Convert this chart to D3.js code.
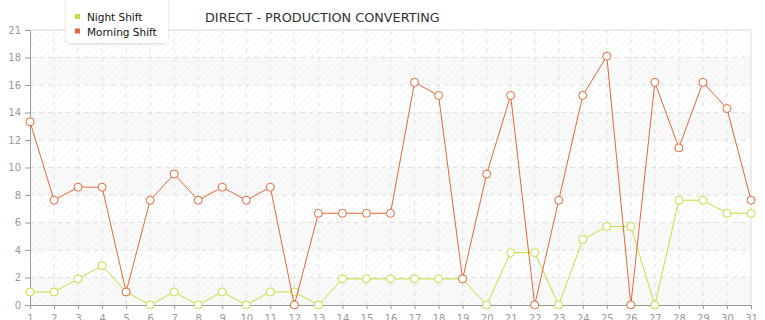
<!DOCTYPE html>
<head>
	<meta charset="utf-8" />
	<style>
		body {
			margin: 0;
			background-color: #fff;
			font-family: 'DejaVu Sans', sans-serif;
		}
		.tick text {
			fill: #999;
			font-size: 10px;
		}
	</style>
</head>
<body>
	<div id="chart-area"></div>
	<script src="https://cdnjs.cloudflare.com/ajax/libs/d3/7.8.5/d3.min.js"></script>
	<script>
		const days = d3.range(1, 32);
		const nightShift = [0.95, 0.95, 1.9, 2.86, 0.95, 0, 0.95, 0, 0.95, 0, 0.95, 0.95, 0, 1.9, 1.9, 1.9,
			1.9, 1.9, 1.9, 0, 3.81, 3.81, 0, 4.76, 5.71, 5.71, 0, 7.62, 7.62, 6.67, 6.67];
		const morningShift = [13.33, 7.62, 8.57, 8.57, 0.95, 7.62, 9.52, 7.62, 8.57, 7.62, 8.57, 0, 6.67, 6.67,
			6.67, 6.67, 16.19, 15.24, 1.9, 9.52, 15.24, 0, 7.62, 15.24, 18.1, 0, 16.19, 11.43, 16.19, 14.29, 7.62];
		const yTicks = [0, 2, 4, 6, 8, 10, 12, 14, 16, 18, 20];
		const yTickLabels = ['0', '2', '4', '6', '8', '10', '12', '14', '16', '18', '21'];
		const seriesNames = ['Night Shift', 'Morning Shift'];
		const colors = ['#c3df3c', '#e3693a'];
		const title = 'DIRECT - PRODUCTION CONVERTING';

		const width = 765, height = 320;
		const margins = { top: 30, right: 14, bottom: 15, left: 30 };

		const svg = d3.select('#chart-area').append('svg')
			.attr('width', width)
			.attr('height', height);

		const x = d3.scaleLinear().domain([1, 31]).range([margins.left, width - margins.right]);
		const y = d3.scaleLinear().domain([0, 20]).range([height - margins.bottom, margins.top]);

		// hatch background
		const defs = svg.append('defs');
		const pat = defs.append('pattern')
			.attr('id', 'hatch')
			.attr('patternUnits', 'userSpaceOnUse')
			.attr('width', 5).attr('height', 5)
			.attr('patternTransform', 'rotate(45)');
		pat.append('line')
			.attr('x1', 0).attr('y1', 0).attr('x2', 0).attr('y2', 5)
			.attr('stroke', '#f0f0f0').attr('stroke-width', 1.3);

		svg.append('rect')
			.attr('x', x(1)).attr('y', y(20))
			.attr('width', x(31) - x(1)).attr('height', y(0) - y(20))
			.attr('fill', 'url(#hatch)');

		// alternating bands
		svg.append('g').selectAll('rect')
			.data([0, 4, 8, 12, 16])
			.join('rect')
			.attr('x', x(1))
			.attr('y', d => y(d + 2))
			.attr('width', x(31) - x(1))
			.attr('height', d => y(d) - y(d + 2))
			.attr('fill', '#f5f5f5')
			.attr('opacity', 0.6);

		// grid
		const grid = svg.append('g')
			.attr('stroke', '#e2e2e2')
			.attr('stroke-dasharray', '5,4');
		grid.selectAll('.v')
			.data(days.slice(1, -1))
			.join('line')
			.attr('x1', d => x(d)).attr('x2', d => x(d))
			.attr('y1', y(20)).attr('y2', y(0));
		grid.selectAll('.h')
			.data(yTicks.slice(1, -1))
			.join('line')
			.attr('x1', x(1)).attr('x2', x(31))
			.attr('y1', d => y(d)).attr('y2', d => y(d));

		// border top/right
		svg.append('path')
			.attr('d', `M${x(1)},${y(20)}H${x(31)}V${y(0)}`)
			.attr('fill', 'none')
			.attr('stroke', '#dddddd');

		// axes
		const yAxis = svg.append('g')
			.attr('transform', `translate(${x(1)},0)`)
			.call(d3.axisLeft(y).tickValues(yTicks).tickSize(5).tickPadding(4)
				.tickFormat((d, i) => yTickLabels[i]));
		const xAxis = svg.append('g')
			.attr('transform', `translate(0,${y(0)})`)
			.call(d3.axisBottom(x).tickValues(days).tickSize(4).tickPadding(6));
		[yAxis, xAxis].forEach(a => {
			a.select('.domain').attr('stroke', '#999');
			a.selectAll('.tick line').attr('stroke', '#999');
			a.selectAll('.tick text').style('font-family', 'DejaVu Sans, sans-serif');
		});

		// series
		[nightShift, morningShift].forEach((values, k) => {
			const line = d3.line().x((d, i) => x(days[i])).y(d => y(d));
			svg.append('path')
				.datum(values)
				.attr('fill', 'none')
				.attr('stroke', colors[k])
				.attr('stroke-width', 1)
				.attr('d', line);
			svg.append('g').selectAll('circle')
				.data(values)
				.join('circle')
				.attr('cx', (d, i) => x(days[i]))
				.attr('cy', d => y(d))
				.attr('r', 4)
				.attr('fill', '#fff')
				.attr('stroke', colors[k])
				.attr('stroke-width', 1);
		});

		// title
		svg.append('text')
			.attr('x', 205).attr('y', 22)
			.attr('fill', '#333')
			.style('font-size', '12.8px')
			.text(title);

		// legend
		const legend = svg.append('g');
		defs.append('filter').attr('id', 'shadow')
			.append('feDropShadow')
			.attr('dx', 0).attr('dy', 1).attr('stdDeviation', 1.5)
			.attr('flood-color', '#000').attr('flood-opacity', 0.15);
		legend.append('rect')
			.attr('x', 66).attr('y', -6)
			.attr('width', 102).attr('height', 49)
			.attr('rx', 5)
			.attr('fill', '#fff')
			.attr('filter', 'url(#shadow)');
		seriesNames.forEach((name, k) => {
			legend.append('rect')
				.attr('x', 75).attr('y', 14 + k * 14.5)
				.attr('width', 5).attr('height', 5)
				.attr('fill', colors[k]);
			legend.append('text')
				.attr('x', 87).attr('y', 21 + k * 14.5)
				.attr('fill', '#111')
				.style('font-size', '10.5px')
				.text(name);
		});
	</script>
</body>
